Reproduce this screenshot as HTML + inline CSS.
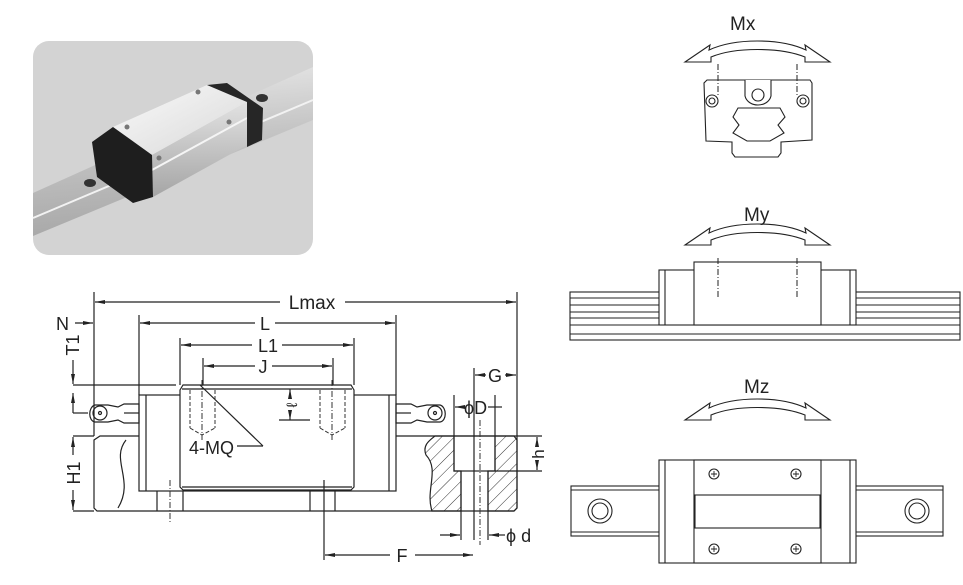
<!DOCTYPE html>
<html><head><meta charset="utf-8"><style>
html,body{margin:0;padding:0;background:#fff;width:963px;height:585px;overflow:hidden}
svg{display:block}
text{font-family:"Liberation Sans",sans-serif;fill:#222}
</style></head><body>
<svg width="963" height="585" viewBox="0 0 963 585" xmlns="http://www.w3.org/2000/svg">
<defs>
<marker id="a" markerWidth="10" markerHeight="6" refX="10" refY="3" orient="auto-start-reverse" markerUnits="userSpaceOnUse"><path d="M0,1 L10,3 L0,5 Z" fill="#222"/></marker>
<pattern id="h" width="9" height="9" patternUnits="userSpaceOnUse" patternTransform="rotate(45)"><line x1="0" y1="0" x2="0" y2="9" stroke="#333" stroke-width="1"/></pattern>
<linearGradient id="rg" x1="0" y1="0" x2="0.15" y2="1"><stop offset="0" stop-color="#ececec"/><stop offset="0.5" stop-color="#c4c4c4"/><stop offset="1" stop-color="#a8a8a8"/></linearGradient>
<linearGradient id="bg" x1="0" y1="0" x2="1" y2="1"><stop offset="0" stop-color="#fafafa"/><stop offset="1" stop-color="#d8d8d8"/></linearGradient>
<linearGradient id="fg" x1="0" y1="0" x2="0" y2="1"><stop offset="0" stop-color="#e2e2e2"/><stop offset="1" stop-color="#a5a5a5"/></linearGradient>
</defs>

<!-- photo -->
<rect x="33" y="41" width="280" height="214" rx="16" fill="#d3d3d3"/>
<polygon points="33,193 313,67 313,120 33,236" fill="url(#rg)"/>
<line x1="33" y1="218" x2="313" y2="100" stroke="#f2f2f2" stroke-width="2"/>
<polygon points="113,127 207,85 247,102 152,155" fill="url(#bg)"/>
<polygon points="152,155 247,102 247,145 153,197" fill="url(#fg)"/>
<line x1="152" y1="170" x2="247" y2="118" stroke="#f5f5f5" stroke-width="2"/>
<polygon points="92,142 113,127 152,155 153,197 133,203 97,177" fill="#1e1e1e"/>
<polygon points="207,85 227,83 263,108 262,140 247,147 247,102" fill="#262626"/>
<ellipse cx="90" cy="183" rx="6" ry="4" fill="#333"/><ellipse cx="262" cy="98" rx="6" ry="4" fill="#333"/>
<circle cx="127" cy="127" r="2.5" fill="#777"/><circle cx="198" cy="92" r="2.5" fill="#777"/>
<circle cx="159" cy="158" r="2.5" fill="#777"/><circle cx="229" cy="122" r="2.5" fill="#777"/>

<g stroke="#222" stroke-width="1.2" fill="none">
<line x1="94" y1="292" x2="94" y2="436"/><line x1="517" y1="292" x2="517" y2="436"/>
<line x1="95" y1="302" x2="280" y2="302" marker-start="url(#a)"/><line x1="345" y1="302" x2="516" y2="302" marker-end="url(#a)"/>
<line x1="139" y1="315" x2="139" y2="395"/><line x1="396" y1="315" x2="396" y2="395"/>
<line x1="75" y1="323" x2="93" y2="323" marker-end="url(#a)"/>
<line x1="140" y1="323" x2="255" y2="323" marker-start="url(#a)"/><line x1="275" y1="323" x2="395" y2="323" marker-end="url(#a)"/>
<line x1="180" y1="338" x2="180" y2="385"/><line x1="354" y1="338" x2="354" y2="385"/>
<line x1="181" y1="345" x2="252" y2="345" marker-start="url(#a)"/><line x1="282" y1="345" x2="353" y2="345" marker-end="url(#a)"/>
<line x1="203" y1="358" x2="203" y2="385"/><line x1="333" y1="358" x2="333" y2="385"/>
<line x1="204" y1="366" x2="255" y2="366" marker-start="url(#a)"/><line x1="272" y1="366" x2="332" y2="366" marker-end="url(#a)"/>
<line x1="474" y1="368" x2="474" y2="540"/>
<line x1="475" y1="375" x2="486" y2="375" marker-start="url(#a)"/><line x1="505" y1="375" x2="516" y2="375" marker-end="url(#a)"/>
<line x1="73" y1="385" x2="176" y2="385"/><line x1="73" y1="413" x2="88" y2="413"/>
<line x1="73" y1="436" x2="94" y2="436"/><line x1="73" y1="511" x2="94" y2="511"/>
<line x1="73" y1="360" x2="73" y2="384" marker-end="url(#a)"/><line x1="73" y1="413" x2="73" y2="393" marker-end="url(#a)"/>
<line x1="73" y1="437" x2="73" y2="455" marker-start="url(#a)"/><line x1="73" y1="490" x2="73" y2="510" marker-end="url(#a)"/>

<path d="M100,436 L517,436 L517,508 L514,511 L97,511 L94,508 L94,440 Z"/>
<path d="M126,440 C110,460 135,480 118,508"/>
<path d="M435,436 L454,436 L454,471 L461,471 L461,511 L432,511 C425,490 440,470 426,455 C422,445 430,440 435,436 Z" fill="url(#h)"/>
<path d="M495,436 L514,436 L517,440 L517,508 L514,511 L488,511 L488,471 L495,471 Z" fill="url(#h)"/>
<rect x="454" y="436" width="41" height="35"/>
<line x1="461" y1="471" x2="461" y2="511"/><line x1="488" y1="471" x2="488" y2="511"/>
<rect x="139" y="395" width="257" height="96" fill="#fff"/>
<line x1="146" y1="395" x2="146" y2="491"/><line x1="389" y1="395" x2="389" y2="491"/>
<path d="M183,385 L351,385 L354,390 L354,487 L351,490 L183,490 L180,487 L180,390 Z" fill="#fff"/>
<line x1="182" y1="389" x2="352" y2="389"/>
<line x1="182" y1="487" x2="352" y2="487"/>
<path d="M157,491 L157,511 M183,491 L183,511 M310,491 L310,511 M335,491 L335,511"/>
<path d="M139,404 L124,404 L118,407 L108,405 L95,405 C88,407 88,421 95,422 L108,422 L118,420 L124,423 L139,423 Z"/>
<circle cx="100" cy="413" r="7"/><circle cx="100" cy="413" r="1.5"/>
<line x1="124" y1="413" x2="139" y2="413"/>
<path d="M396,404 L411,404 L417,407 L427,405 L440,405 C447,407 447,421 440,422 L427,422 L417,420 L411,423 L396,423 Z"/>
<circle cx="435" cy="413" r="7"/><circle cx="435" cy="413" r="1.5"/>
<line x1="396" y1="413" x2="411" y2="413"/>
<line x1="200" y1="385" x2="263" y2="446"/><line x1="237" y1="446" x2="263" y2="446"/>
<line x1="279" y1="420" x2="310" y2="420"/>
<line x1="290" y1="395" x2="290" y2="389" marker-end="url(#a)"/><line x1="290" y1="414" x2="290" y2="420" marker-end="url(#a)"/>
<line x1="454" y1="395" x2="454" y2="436"/><line x1="495" y1="395" x2="495" y2="436"/>
<line x1="455" y1="407" x2="465" y2="407" marker-start="url(#a)"/><line x1="488" y1="407" x2="502" y2="407"/>
<line x1="517" y1="436" x2="542" y2="436"/><line x1="495" y1="471" x2="542" y2="471"/>
<line x1="537" y1="440" x2="537" y2="437" marker-end="url(#a)"/><line x1="537" y1="466" x2="537" y2="470" marker-end="url(#a)"/>
<line x1="461" y1="511" x2="461" y2="540"/><line x1="488" y1="511" x2="488" y2="540"/>
<line x1="440" y1="535" x2="460" y2="535" marker-end="url(#a)"/><line x1="505" y1="535" x2="489" y2="535" marker-end="url(#a)"/>
<line x1="324" y1="480" x2="324" y2="560"/>
<line x1="325" y1="555" x2="390" y2="555" marker-start="url(#a)"/><line x1="415" y1="555" x2="473" y2="555" marker-end="url(#a)"/>
</g>
<g stroke="#333" stroke-width="1" fill="none" stroke-dasharray="4,2">
<path d="M190,390 V428 M215,390 V428 M320,390 V428 M345,390 V428 M190,428 L202,435 L215,428 M320,428 L332,435 L345,428"/>
<path d="M202,380 V440 M332,380 V440 M170,480 V522 M480,420 V545" stroke-dasharray="6,2,1,2"/>
</g>
<text x="312" y="309" font-size="19" text-anchor="middle">Lmax</text>
<text x="56" y="330" font-size="18">N</text>
<text x="265" y="330" font-size="18" text-anchor="middle">L</text>
<text x="268" y="352" font-size="18" text-anchor="middle">L1</text>
<text x="263" y="373" font-size="18" text-anchor="middle">J</text>
<text x="495" y="382" font-size="18" text-anchor="middle">G</text>
<text x="79" y="345" font-size="18" transform="rotate(-90 79 345)" text-anchor="middle">T1</text>
<text x="80" y="473" font-size="18" transform="rotate(-90 80 473)" text-anchor="middle">H1</text>
<text x="189" y="454" font-size="18">4-MQ</text>
<text x="297" y="405" font-size="15" transform="rotate(-90 297 405)" text-anchor="middle">ℓ</text>
<text x="464" y="414" font-size="18">ϕD</text>
<text x="544" y="454" font-size="17" transform="rotate(-90 544 454)" text-anchor="middle">h</text>
<text x="506" y="542" font-size="18">ϕ d</text>
<text x="402" y="562" font-size="18" text-anchor="middle">F</text>

<g stroke="#222" stroke-width="1.1" fill="#fff">
<path d="M685,62 L710,45 L709,50 C735,38 780,38 806,50 L805,45 L830,62 L805,62 L805,57 C780,47 735,47 711,57 L711,62 Z"/>
<path d="M685,245 L710,228 L709,233 C735,221 780,221 806,233 L805,228 L830,245 L805,245 L805,240 C780,230 735,230 711,240 L711,245 Z"/>
<path d="M685,420 L710,403 L709,408 C735,396 780,396 806,408 L805,403 L830,420 L805,420 L805,415 C780,405 735,405 711,415 L711,420 Z"/>
<path d="M707,80 L810,80 L812,83 L812,140 L781,142 L781,153 L778,157 L735,157 L732,153 L732,142 L706,141 L704,83 Z"/>
<path d="M733,117 L738,108 L780,108 L785,117 L778,125 L784,133 L770,141 L747,141 L733,133 L739,125 Z"/>
<circle cx="712" cy="101" r="6"/><circle cx="712" cy="101" r="3"/>
<circle cx="803" cy="101" r="6"/><circle cx="803" cy="101" r="3"/>
<path d="M745,80 L745,96 C748,108 768,108 771,96 L771,80"/><circle cx="758" cy="95" r="6"/>
<rect x="570" y="292" width="390" height="48"/>
<path d="M570,298 H660 M570,305 H660 M570,312 H660 M570,318 H660 M570,325 H660 M855,298 H960 M855,305 H960 M855,312 H960 M855,318 H960 M855,325 H960 M570,334 H960"/>
<rect x="659" y="270" width="197" height="55"/>
<rect x="694" y="262" width="127" height="63"/>
<path d="M665,270 V325 M850,270 V325"/>
<rect x="571" y="486" width="372" height="50"/>
<path d="M571,490 H943 M571,532 H943"/>
<circle cx="600" cy="511" r="12"/><circle cx="600" cy="511" r="8"/>
<circle cx="917" cy="511" r="12"/><circle cx="917" cy="511" r="8"/>
<rect x="659" y="460" width="197" height="103"/>
<path d="M665,460 V563 M850,460 V563"/>
<rect x="694" y="460" width="127" height="103"/>
<rect x="695" y="495" width="125" height="33"/>
<circle cx="714" cy="474" r="5"/><circle cx="796" cy="474" r="5"/>
<circle cx="714" cy="549" r="5"/><circle cx="796" cy="549" r="5"/>
</g>
<g stroke="#222" stroke-width="1" stroke-dasharray="6,2,1,2">
<path d="M718,64 V95 M797,64 V95 M718,258 V298 M797,258 V298"/>
</g>
<g stroke="#222" stroke-width="0.9">
<path d="M711,474 h6 M714,471 v6 M793,474 h6 M796,471 v6 M711,549 h6 M714,546 v6 M793,549 h6 M796,546 v6"/>
</g>
<text x="730" y="30" font-size="19">Mx</text>
<text x="744" y="221" font-size="19">My</text>
<text x="744" y="393" font-size="19">Mz</text>
</svg>
</body></html>
